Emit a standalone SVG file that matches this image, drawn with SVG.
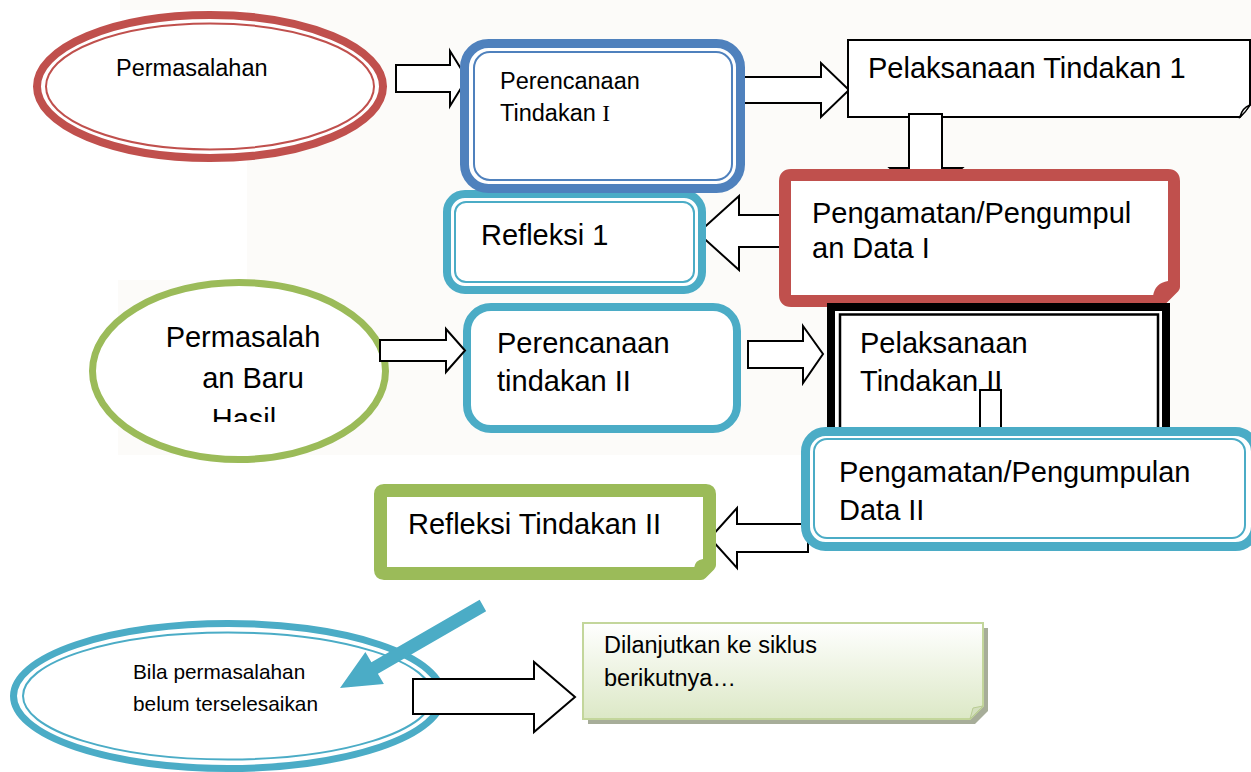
<svg xmlns="http://www.w3.org/2000/svg" width="1251" height="772" viewBox="0 0 1251 772">
<defs>
<style>
.t{font-family:"Liberation Sans",Arial,sans-serif;fill:#000}
.big{font-size:29px}
.blk{fill:#fff;stroke:#000;stroke-width:2;stroke-linejoin:miter}
</style>
<linearGradient id="gg" x1="0" y1="0" x2="0" y2="1">
<stop offset="0" stop-color="#ffffff"/>
<stop offset="1" stop-color="#dce8c6"/>
</linearGradient>
<clipPath id="clipHasil"><rect x="0" y="0" width="1251" height="422"/></clipPath>
</defs>
<rect x="0" y="0" width="1251" height="772" fill="#fff"/>
<g id="bg">
<rect x="247" y="0" width="1004" height="455" fill="#fcfbf9"/>
<rect x="120" y="0" width="127" height="10" fill="#fcfbf9"/>
<rect x="118" y="280" width="129" height="175" fill="#fcfbf9"/>
</g>

<g id="connectors-back">
<polygon class="blk" points="396,65 450,65 450,51 467,78.5 450,106 450,92 396,92"/>
<polygon class="blk" points="738,77 821,77 821,63 849,90 821,117 821,103 738,103"/>
<polygon class="blk" points="796,215 739,215 739,196 698,233 739,270 739,247 796,247"/>
</g>

<g id="n-permasalahan">
<ellipse cx="210" cy="86.5" rx="173" ry="71.5" fill="#fff" stroke="#c0504d" stroke-width="8"/>
<ellipse cx="210" cy="86.5" rx="164" ry="63" fill="none" stroke="#c0504d" stroke-width="2"/>
<text class="t" x="116" y="76" font-size="23.5">Permasalahan</text>
</g>

<g id="n-refleksi1">
<rect x="447" y="194" width="255" height="96" rx="18" fill="#fff" stroke="#4bacc6" stroke-width="8"/>
<rect x="455" y="202" width="239" height="80" rx="11" fill="none" stroke="#4bacc6" stroke-width="2"/>
<text class="t big" x="481" y="245">Refleksi 1</text>
</g>

<g id="n-perencanaan1">
<rect x="464.5" y="43.5" width="276" height="145" rx="24" fill="#fff" stroke="#4f81bd" stroke-width="9"/>
<rect x="474" y="52" width="258" height="128" rx="16" fill="none" stroke="#4f81bd" stroke-width="2"/>
<text class="t" x="500" y="89" font-size="23.5">Perencanaan</text>
<text class="t" x="500" y="121" font-size="23.5">Tindakan <tspan font-family="'Liberation Serif',serif">I</tspan></text>
</g>

<g id="n-pelaksanaan1">
<path d="M848,40 H1250 V105 L1240,117 H848 Z" fill="#fff" stroke="#000" stroke-width="2"/>
<path d="M1240,117 Q1242,108 1250,105 Q1246,112 1240,117 Z" fill="#fff" stroke="#000" stroke-width="1.5"/>
<text class="t big" x="868" y="78">Pelaksanaan Tindakan 1</text>
</g>

<g id="connector-down1">
<polygon class="blk" points="909,114 942,114 942,168 962,168 926,200 890,168 909,168"/>
</g>

<g id="n-pengamatan1">
<path d="M791,175 H1168 Q1174,175 1174,181 V287 L1160,301 H791 Q785,301 785,295 V181 Q785,175 791,175 Z" fill="#fff" stroke="#c0504d" stroke-width="12" stroke-linejoin="round"/>
<path d="M1168,281 L1168,296 L1153,296 Q1155,283 1168,281 Z" fill="#c0504d"/>
<text class="t big" x="812" y="223">Pengamatan/Pengumpul</text>
<text class="t big" x="812" y="258">an Data I</text>
</g>

<g id="n-pelaksanaan2">
<rect x="831" y="307" width="335" height="140" fill="#fff" stroke="#000" stroke-width="8"/>
<rect x="840" y="314.5" width="318" height="125" fill="none" stroke="#000" stroke-width="2.5"/>
<text class="t big" x="860" y="353">Pelaksanaan</text>
<text class="t big" x="860" y="391">Tindakan II</text>
<rect x="980" y="390" width="21" height="50" fill="#fff" stroke="#000" stroke-width="2"/>
</g>

<g id="n-permasalahanbaru">
<ellipse cx="239" cy="371" rx="146.5" ry="88.5" fill="#fff" stroke="#9bbb59" stroke-width="7"/>
<g clip-path="url(#clipHasil)">
<text class="t big" x="243" y="347" text-anchor="middle">Permasalah</text>
<text class="t big" x="253" y="388" text-anchor="middle">an Baru</text>
<text class="t big" x="244" y="429" text-anchor="middle">Hasil</text>
</g>
</g>

<g id="n-perencanaan2">
<rect x="467" y="307" width="270" height="122" rx="24" fill="#fff" stroke="#4bacc6" stroke-width="8"/>
<text class="t big" x="497" y="353">Perencanaan</text>
<text class="t big" x="497" y="391">tindakan II</text>
</g>

<g id="connectors-mid">
<polygon class="blk" points="380,340 446,340 446,329 465,350.5 446,372 446,361 380,361"/>
<polygon class="blk" points="748,341 803,341 803,326 823,354 803,383 803,368 748,368"/>
<polygon class="blk" points="808,524 737,524 737,508 710,538 737,568 737,552 808,552"/>
</g>

<g id="n-pengamatan2">
<rect x="805.5" y="431.5" width="450" height="115" rx="20" fill="#fff" stroke="#4bacc6" stroke-width="9"/>
<rect x="814" y="439" width="431" height="99" rx="13" fill="none" stroke="#4bacc6" stroke-width="2"/>
<text class="t big" x="839" y="482">Pengamatan/Pengumpulan</text>
<text class="t big" x="839" y="520">Data II</text>
</g>

<g id="n-refleksi2">
<path d="M384,490.5 H706 Q709.5,490.5 709.5,494 V565 L701,573.5 H384 Q380.5,573.5 380.5,570 V494 Q380.5,490.5 384,490.5 Z" fill="#fff" stroke="#9bbb59" stroke-width="13" stroke-linejoin="round"/>
<path d="M703,559 L703,568 L694,568 Q695,560 703,559 Z" fill="#9bbb59"/>
<text class="t big" x="408" y="534">Refleksi Tindakan II</text>
</g>

<g id="n-bila">
<ellipse cx="228" cy="696" rx="214.5" ry="72.5" fill="#fff" stroke="#4bacc6" stroke-width="7"/>
<ellipse cx="228" cy="696" rx="205" ry="63.5" fill="none" stroke="#4bacc6" stroke-width="2"/>
<text class="t" x="133" y="679" font-size="20.8">Bila permasalahan</text>
<text class="t" x="133" y="711" font-size="20.8">belum terselesaikan</text>
</g>

<g id="n-dilanjutkan">
<path d="M588,628 H988 V711 L975,724 H588 Z" fill="#a7ad99"/>
<path d="M583,623 H983 V706 L970,719 H583 Z" fill="url(#gg)" stroke="#c3d69b" stroke-width="2"/>
<path d="M970,719 L973,708 L983,706 Z" fill="#d3dfbd" stroke="#b9cc93" stroke-width="1"/>
<text class="t" x="604" y="653" font-size="23.5">Dilanjutkan ke siklus</text>
<text class="t" x="604" y="686" font-size="23.5">berikutnya…</text>
</g>

<g id="connectors-front">
<polygon class="blk" points="413,679 534,679 534,662 575,697 534,732 534,714 413,714"/>
<polygon transform="translate(340,688) rotate(-30)" points="0,0 40,-18.5 40,-6.5 165,-6.5 165,6.5 40,6.5 40,18.5" fill="#4bacc6"/>
</g>
</svg>
